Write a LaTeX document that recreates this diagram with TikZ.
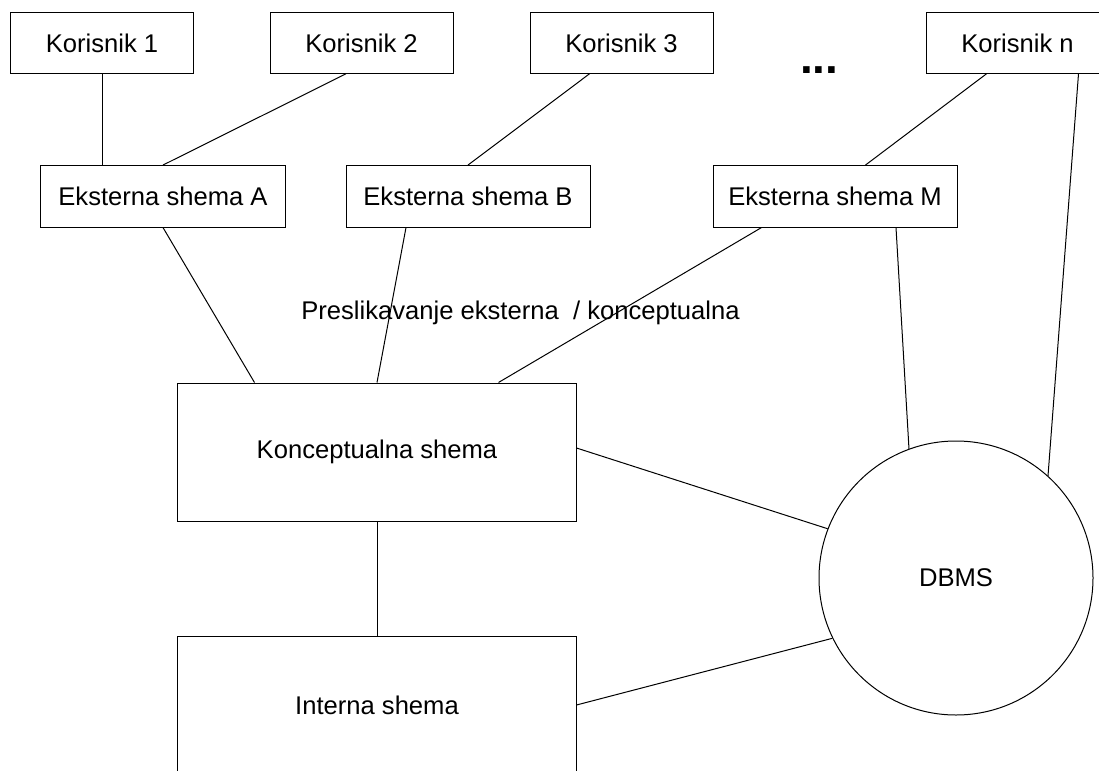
\documentclass[tikz,border=0pt]{standalone}
\usepackage{fontspec}
\setmainfont{Liberation Sans}
\begin{document}
\begin{tikzpicture}[x=1bp,y=-1bp,
  txt/.style={font=\fontsize{25.6bp}{30bp}\selectfont},
  box/.style={txt, draw, rectangle, line width=1bp, inner sep=0pt},
  ubox/.style={box, minimum width=183bp, minimum height=60.6bp},
  ebox/.style={box, minimum width=244bp, minimum height=61.5bp},
  bigbox/.style={box, minimum width=398bp, minimum height=138bp},
  link/.style={line width=1bp}]
  \useasboundingbox (0,0) rectangle (1099,771);
  \clip (0,0) rectangle (1099,771);

  % users
  \node[ubox] (k1) at (102,43) {Korisnik 1};
  \node[ubox] (k2) at (361.5,43) {Korisnik 2};
  \node[ubox] (k3) at (621.5,43) {Korisnik 3};
  \node[ubox] (kn) at (1017.5,43) {Korisnik n};
  \node[anchor=base west, inner sep=0pt,
        font=\fontsize{46bp}{56bp}\selectfont\bfseries] (dots) at (800,74) {...};

  % external schemas
  \node[ebox] (exta) at (163,196.3) {Eksterna shema A};
  \node[ebox] (extb) at (468,196.3) {Eksterna shema B};
  \node[ebox] (extm) at (835,196.3) {Eksterna shema M};

  % mapping label
  \node[txt, anchor=base, inner sep=0pt] (map) at (520.5,319)
       {Preslikavanje eksterna\ \ / konceptualna};

  % conceptual and internal schema
  \node[bigbox] (konc) at (377,452) {Konceptualna shema};
  \node[bigbox] (intr) at (377,705) {Interna shema};

  % DBMS
  \node[txt, draw, circle, line width=1bp, inner sep=0pt,
        minimum size=274bp] (dbms) at (956,578) {DBMS};

  % users to external schemas
  \draw[link] (k1.south) -- (k1.south |- exta.north);
  \draw[link] ([xshift=76.5bp]k2.south west) -- (exta.north);
  \draw[link] ([xshift=60bp]k3.south west) -- (extb.north);
  \draw[link] ([xshift=61bp]kn.south west) -- ([xshift=153bp]extm.north west);
  \draw[link] ([xshift=153bp]kn.south west) -- (dbms.48.8);

  % external schemas to conceptual schema
  \draw[link] (exta.south) -- ([xshift=77bp]konc.north west);
  \draw[link] ([xshift=60.5bp]extb.south west) -- (konc.north);
  \draw[link] ([xshift=49bp]extm.south west) -- ([xshift=321bp]konc.north west);
  \draw[link] ([xshift=183.5bp]extm.south west) -- (dbms.110.4);

  % lower links
  \draw[link] ([yshift=4bp]konc.east) -- (dbms.159.8);
  \draw[link] (konc.south) -- (intr.north);
  \draw[link] (intr.east) -- (dbms.206.4);
\end{tikzpicture}
\end{document}
